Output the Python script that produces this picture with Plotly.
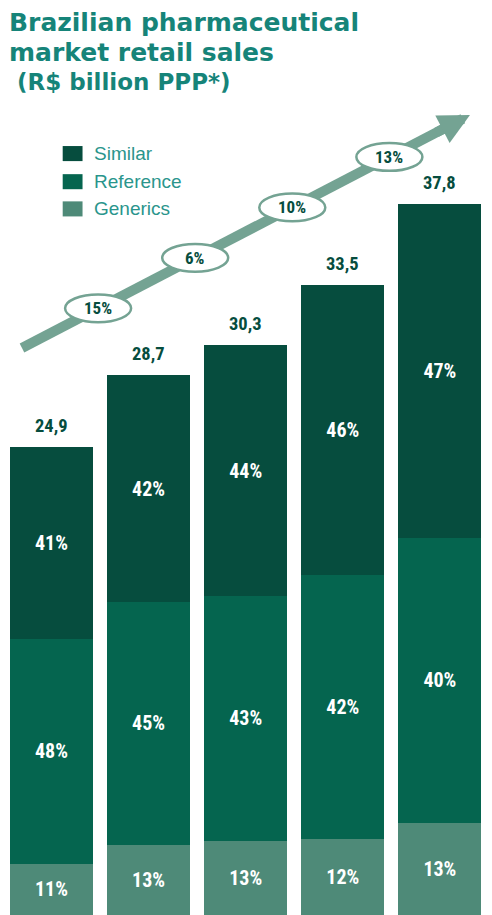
import plotly.graph_objects as go

# data
years = [0, 1, 2, 3, 4]
totals = [24.9, 28.7, 30.3, 33.5, 37.8]
total_labels = ["24,9", "28,7", "30,3", "33,5", "37,8"]
generics_pct = [11, 13, 13, 12, 13]
reference_pct = [48, 45, 43, 42, 40]
similar_pct = [41, 42, 44, 46, 47]
growth = ["15%", "6%", "10%", "13%"]
series = ["Similar", "Reference", "Generics"]
title_lines = ["Brazilian pharmaceutical", "market retail sales", " (R$ billion PPP*)"]

c_similar = "#064d3e"
c_reference = "#05654f"
c_generics = "#4e8a78"
c_arrow = "#74a393"
c_title = "#168479"
c_legend = "#2a958c"
colors = {"Similar": c_similar, "Reference": c_reference, "Generics": c_generics}

narrow = "Liberation Sans Narrow, Roboto Condensed, Arial Narrow, sans-serif"
seg_font = dict(family=narrow, size=20, color="white")


def values(pct):
    return [t * p / 100 for t, p in zip(totals, pct)]


fig = go.Figure()
for name, pct in [("Generics", generics_pct), ("Reference", reference_pct),
                  ("Similar", similar_pct)]:
    fig.add_trace(go.Bar(
        x=years, y=values(pct), name=name,
        marker=dict(color=colors[name], line=dict(width=0)),
        text=[f"<b>{p}%</b>" for p in pct],
        textposition="inside", insidetextanchor="middle",
        textfont=seg_font, width=0.855,
        hoverinfo="skip", showlegend=False,
    ))

# totals above the bars
for x, t, lab in zip(years, totals, total_labels):
    fig.add_annotation(x=x, y=t, text=f"<b>{lab}</b>", showarrow=False,
                       yanchor="bottom", yshift=8,
                       font=dict(family=narrow, size=18.5, color=c_similar))

# growth arrow: shaft as a shape so the ellipses sit on top of it
x_tail, y_tail, x_tip, y_tip = -0.304, 30.16, 4.31, 42.55
slope = (y_tip - y_tail) / (x_tip - x_tail)
fig.add_shape(type="line", xref="x", yref="y", x0=x_tail, y0=y_tail,
              x1=4.05, y1=y_tail + (4.05 - x_tail) * slope,
              line=dict(color=c_arrow, width=10))
fig.add_annotation(x=x_tip, y=y_tip, ax=3.95, ay=y_tail + (3.95 - x_tail) * slope,
                   axref="x", ayref="y", xref="x", yref="y", text="", showarrow=True,
                   arrowhead=2, arrowsize=0.62, arrowwidth=10, arrowcolor=c_arrow,
                   standoff=0)

# growth ellipses between bars
for i, g in enumerate(growth):
    xc = i + 0.48
    yc = y_tail + (xc - x_tail) * slope
    fig.add_shape(type="circle", xref="x", yref="y",
                  x0=xc - 0.34, x1=xc + 0.34, y0=yc - 0.74, y1=yc + 0.74,
                  fillcolor="white", line=dict(color=c_arrow, width=2.5))
    fig.add_annotation(x=xc, y=yc, text=f"<b>{g}</b>", showarrow=False,
                       font=dict(family=narrow, size=17, color=c_similar))

# legend drawn by hand (bigger swatches than plotly's own)
legend_y = [0.8395, 0.8085, 0.7785]
for name, ym in zip(series, legend_y):
    fig.add_shape(type="rect", xref="paper", yref="paper",
                  x0=0.113, x1=0.154, y0=ym - 0.0083, y1=ym + 0.0083,
                  fillcolor=colors[name], line=dict(width=0))
    fig.add_annotation(xref="paper", yref="paper", x=0.174, y=ym, xanchor="left",
                       yanchor="middle", text=name, showarrow=False,
                       font=dict(family="Liberation Sans, Arial, sans-serif",
                                 size=19, color=c_legend))

# title block, one annotation per line
title_y = [0.9835, 0.9504, 0.9184]
title_size = [25, 25, 23]
for line, ty, fs in zip(title_lines, title_y, title_size):
    fig.add_annotation(xref="paper", yref="paper", x=0.0, y=ty, xanchor="left",
                       yanchor="middle", text=f"<b>{line}</b>", showarrow=False,
                       borderpad=0,
                       font=dict(family="DejaVu Sans, Liberation Sans, sans-serif",
                                 size=fs, color=c_title))

# page body adds an 8px margin, so the figure is 8px smaller than the window
fig.update_layout(
    width=484, height=907,
    margin=dict(l=0, r=0, t=0, b=0),
    paper_bgcolor="white", plot_bgcolor="white",
    barmode="stack", bargap=0.145,
    showlegend=False,
    xaxis=dict(range=[-0.448, 4.537], visible=False, fixedrange=True),
    yaxis=dict(range=[0, 48.24], visible=False, fixedrange=True),
)

fig.write_html("out.html")
